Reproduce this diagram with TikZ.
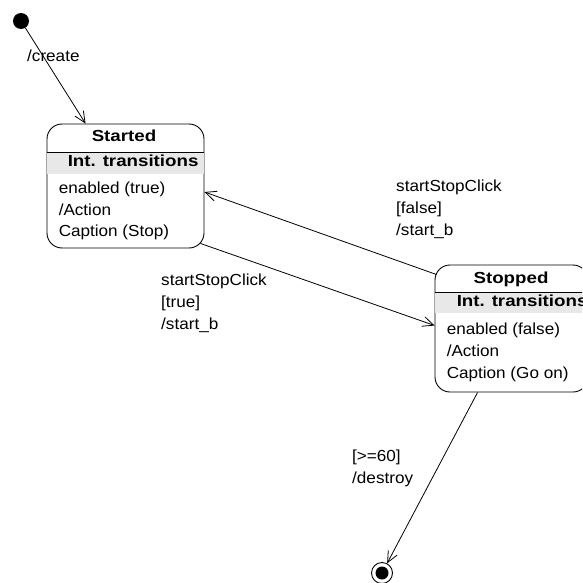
\documentclass[tikz,border=0pt]{standalone}
\usepackage{fontspec}
\setmainfont{Liberation Sans}[FakeStretch=1.07,BoldFeatures={FakeStretch=1.17}]
\usetikzlibrary{arrows.meta,calc}

\tikzset{
  state/.style={draw, line width=0.9pt, rounded corners=15pt, inner sep=0pt},
  txt/.style={inner sep=0pt, text height=12pt, text depth=4pt, font=\fontsize{16}{22}\selectfont},
  guard/.style={inner sep=0pt, anchor=north west, align=left, font=\fontsize{16}{22}\selectfont},
  trans/.style={line width=0.8pt, -{Straight Barb[length=11pt,width=10pt]}}
}

\begin{document}
\begin{tikzpicture}[x=1pt,y=-1pt]
\useasboundingbox (0,0) rectangle (582,583);
\clip (0,0) rectangle (582,583);

% states
\node[state, minimum width=157pt, minimum height=124pt] (started) at (125.5,186) {};
\node[state, minimum width=153pt, minimum height=127pt] (stopped) at (511.5,328.5) {};

% compartments
\fill[black!9] ($(started.north west)+(0.5,29)$) rectangle ($(started.north east)+(-0.5,50)$);
\draw[line width=0.9pt] ($(started.north west)+(0,29)$) -- ($(started.north east)+(0,29)$);
\fill[black!9] ($(stopped.north west)+(0.5,28)$) rectangle ($(stopped.north east)+(-0.5,48)$);
\draw[line width=0.9pt] ($(stopped.north west)+(0,28)$) -- ($(stopped.north east)+(0,28)$);

\node[txt, font=\fontsize{16}{22}\selectfont\bfseries] (startedname) at ($(started.north)+(-1.5,14)$) {Started};
\node[txt, anchor=west, font=\fontsize{16}{22}\selectfont\bfseries] (startedint) at ($(started.north west)+(21,39)$) {Int. transitions};
\node[txt, anchor=west] (startedin1) at ($(started.north west)+(12,66)$) {enabled (true)};
\node[txt, anchor=west] (startedin2) at ($(started.north west)+(12,88)$) {/Action};
\node[txt, anchor=west] (startedin3) at ($(started.north west)+(12,109)$) {Caption (Stop)};

\node[txt, font=\fontsize{16}{22}\selectfont\bfseries] (stoppedname) at ($(stopped.north)+(-0.5,15)$) {Stopped};
\node[txt, anchor=west, font=\fontsize{16}{22}\selectfont\bfseries] (stoppedint) at ($(stopped.north west)+(22,38)$) {Int. transitions};
\node[txt, anchor=west] (stoppedin1) at ($(stopped.north west)+(12,66)$) {enabled (false)};
\node[txt, anchor=west] (stoppedin2) at ($(stopped.north west)+(12,88)$) {/Action};
\node[txt, anchor=west] (stoppedin3) at ($(stopped.north west)+(12,110)$) {Caption (Go on)};

% pseudo states
\node[circle, fill, minimum size=16pt, inner sep=0pt] (init) at (21,21) {};
\node[circle, draw, line width=0.9pt, minimum size=21pt, inner sep=0pt] (final) at (382,573) {};
\fill (final.center) circle (6.5pt);

% transitions
\draw[trans] (init) -- ($(started.north west)+(39,0)$);
\draw[trans] ($(stopped.north west)+(2,10)$) -- ($(started.east)+(0,6)$);
\draw[trans] ($(started.south east)+(-4,-5)$) -- ($(stopped.west)+(0,-3)$);
\draw[trans] ($(stopped.south west)+(43,0)$) -- (final);

\node[txt, anchor=west] (createlbl) at (27,58) {/create};
\node[guard] (falselbl) at (396,180) {startStopClick\\{}[false]\\/start\_b};
\node[guard] (truelbl) at (161,274) {startStopClick\\{}[true]\\/start\_b};
\node[guard] (destroylbl) at (352,450) {[>=60]\\/destroy};
\end{tikzpicture}
\end{document}
